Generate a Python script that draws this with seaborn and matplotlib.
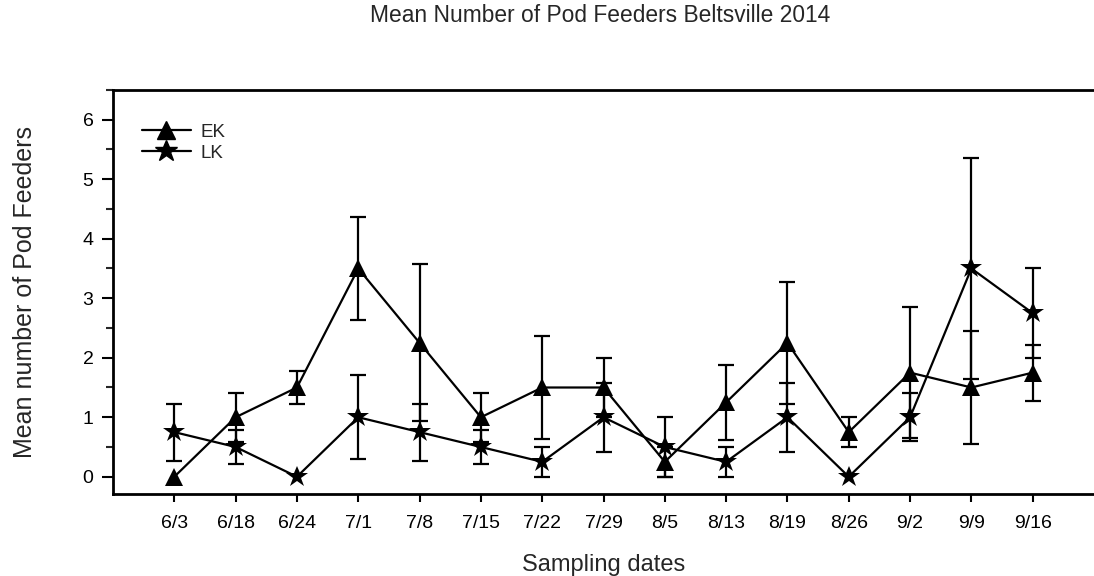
import numpy as np
import pandas as pd
import matplotlib
matplotlib.use("Agg")
import matplotlib.pyplot as plt
import seaborn as sns
from matplotlib.lines import Line2D
from matplotlib.ticker import MultipleLocator

dates = ["6/3", "6/18", "6/24", "7/1", "7/8", "7/15", "7/22", "7/29",
         "8/5", "8/13", "8/19", "8/26", "9/2", "9/9", "9/16"]
ek_mean = [0.0, 1.0, 1.5, 3.5, 2.25, 1.0, 1.5, 1.5, 0.25, 1.25, 2.25, 0.75, 1.75, 1.5, 1.75]
ek_err = [0.0, 0.41, 0.28, 0.87, 1.32, 0.41, 0.87, 0.5, 0.25, 0.63, 1.03, 0.25, 1.1, 0.95, 0.47]
lk_mean = [0.75, 0.5, 0.0, 1.0, 0.75, 0.5, 0.25, 1.0, 0.5, 0.25, 1.0, 0.0, 1.0, 3.5, 2.75]
lk_err = [0.48, 0.29, 0.0, 0.71, 0.48, 0.29, 0.25, 0.58, 0.5, 0.25, 0.58, 0.0, 0.4, 1.85, 0.75]
series = ["EK", "LK"]

sns.set_style("ticks")
plt.rcParams['font.family'] = ['Liberation Sans', 'DejaVu Sans']

df = pd.DataFrame({
    "date": dates * 2,
    "x": list(range(len(dates))) * 2,
    "mean": ek_mean + lk_mean,
    "err": ek_err + lk_err,
    "series": ["EK"] * len(dates) + ["LK"] * len(dates),
})

W, H = 1094, 576
fig = plt.figure(figsize=(W / 100, H / 100), dpi=100)
ax = fig.add_axes([113 / W, 1 - 494 / H, 1 - 113 / W, (494 - 90) / H])

markers = {"EK": "^", "LK": "*"}
msizes = {"EK": 13, "LK": 16.5}

# error bars
for s, m, e in [("EK", ek_mean, ek_err), ("LK", lk_mean, lk_err)]:
    xs = np.arange(len(dates))
    mask = np.array(e) > 0
    ax.errorbar(xs[mask], np.array(m)[mask], yerr=np.array(e)[mask], fmt="none",
                ecolor="black", elinewidth=1.6, capsize=6, capthick=1.6, zorder=2)

sns.lineplot(data=df, x="x", y="mean", hue="series", palette={"EK": "black", "LK": "black"},
             style="series", markers=markers, dashes=False, sort=False, ax=ax,
             linewidth=1.6, markeredgewidth=0, legend=False, zorder=3)
lines = [l for l in ax.get_lines() if l.get_marker() in ("^", "*")]
for l in lines:
    l.set_markersize(msizes["EK"] if l.get_marker() == "^" else msizes["LK"])

ax.set_xlim(-1.0, 15.0)
ax.set_ylim(-0.29, 6.5)
ax.set_xticks(range(len(dates)))
ax.set_xticklabels(dates)
ax.yaxis.set_major_locator(MultipleLocator(1))
ax.yaxis.set_minor_locator(MultipleLocator(0.5))
ax.tick_params(axis="both", which="major", direction="out", length=6, width=1.5,
               labelsize=14, colors="black")
ax.tick_params(axis="y", which="major", length=8, pad=6)
ax.tick_params(axis="y", which="minor", direction="out", length=5, width=1.5)
ax.tick_params(axis="x", which="minor", bottom=False)
ax.tick_params(axis="x", pad=9)

for sp in ["top", "left", "bottom"]:
    ax.spines[sp].set_visible(True)
    ax.spines[sp].set_linewidth(2)
    ax.spines[sp].set_color("black")
ax.spines["right"].set_visible(False)

ax.set_xlabel("Sampling dates", fontsize=17, labelpad=16)
ax.set_ylabel("Mean number of Pod Feeders", fontsize=18, labelpad=33)

fig.text(600 / W, 1 - 16 / H, "Mean Number of Pod Feeders Beltsville 2014",
         ha="center", va="center", fontsize=16.4)

handles = [Line2D([], [], color="black", marker="^", markersize=13, linewidth=1.6),
           Line2D([], [], color="black", marker="*", markersize=16.5, linewidth=1.6)]
ax.legend(handles, series, loc="upper left", bbox_to_anchor=(0.022, 0.935),
          frameon=False, fontsize=13.5, handlelength=2.6, handletextpad=0.5,
          labelspacing=0.2, borderaxespad=0)

fig.savefig("out.png", dpi=100)
